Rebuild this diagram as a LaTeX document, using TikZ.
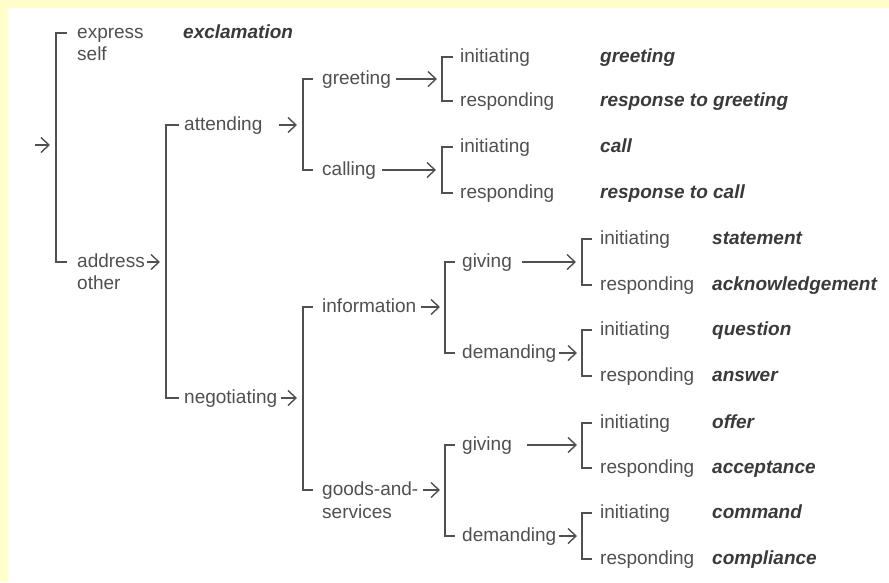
\documentclass[tikz,border=0pt]{standalone}
\usepackage{fontspec}
\setmainfont{Liberation Sans}
\usetikzlibrary{arrows.meta}
\definecolor{bgyellow}{RGB}{255,255,204}
\definecolor{ink}{RGB}{80,80,80}
\definecolor{dark}{RGB}{58,58,58}
\begin{document}
\begin{tikzpicture}[x=1pt,y=-1pt,
  lbl/.style={anchor=west,inner sep=0pt,text height=10pt,text depth=0pt,text=ink,font=\fontsize{19}{22}\selectfont},
  res/.style={lbl,text=dark,font=\fontsize{19}{22}\selectfont\bfseries\itshape},
  line/.style={draw=ink,line width=1.3pt},
  arr/.style={line,-{Straight Barb[length=8pt,width=15pt,line width=1.4pt]}}]
\fill[bgyellow] (0,0) rectangle (889,582);
\fill[white] (8,8) rectangle (889,582);
\useasboundingbox (0,0) rectangle (889,582);

% bar positions
\coordinate (B1) at (56,0);
\coordinate (B2) at (166,0);
\coordinate (B3) at (303,0);
\coordinate (B5) at (442,0);
\coordinate (B7) at (445,0);
\coordinate (B9) at (582,0);
\coordinate (start) at (35,145);

% level 1
\node[lbl] (ex) at (77,33) {express};
\node[lbl] (exb) at (77,55) {self};
\node[res] (excl) at (183,33) {exclamation};
\node[lbl] (ad) at (77,262) {address};
\node[lbl] (adb) at (77,284) {other};

% level 2
\node[lbl] (att) at (184,125) {attending};
\node[lbl] (neg) at (184,398) {negotiating};

% level 3
\node[lbl] (gr) at (322,79) {greeting};
\node[lbl] (ca) at (322,170) {calling};
\node[lbl] (inf) at (322,307) {information};
\node[lbl] (gs) at (322,490) {goods-and-};
\node[lbl] (gsb) at (322,513) {services};

% level 4 (top)
\node[lbl] (i1) at (460,57) {initiating};
\node[lbl] (r1) at (460,101) {responding};
\node[lbl] (i2) at (460,147) {initiating};
\node[lbl] (r2) at (460,193) {responding};
\node[res] (x1) at (600,57) {greeting};
\node[res] (y1) at (600,101) {response to greeting};
\node[res] (x2) at (600,147) {call};
\node[res] (y2) at (600,193) {response to call};

% level 4 (bottom)
\node[lbl] (g1) at (462,262) {giving};
\node[lbl] (d1) at (462,353) {demanding};
\node[lbl] (g2) at (462,445) {giving};
\node[lbl] (d2) at (462,536) {demanding};

% level 5
\node[lbl] (i3) at (600,239) {initiating};
\node[lbl] (r3) at (600,285) {responding};
\node[lbl] (i4) at (600,330) {initiating};
\node[lbl] (r4) at (600,376) {responding};
\node[lbl] (i5) at (600,423) {initiating};
\node[lbl] (r5) at (600,468) {responding};
\node[lbl] (i6) at (600,513) {initiating};
\node[lbl] (r6) at (600,559) {responding};
\node[res] (s3) at (712,239) {statement};
\node[res] (t3) at (712,285) {acknowledgement};
\node[res] (s4) at (712,330) {question};
\node[res] (t4) at (712,376) {answer};
\node[res] (s5) at (712,423) {offer};
\node[res] (t5) at (712,468) {acceptance};
\node[res] (s6) at (712,513) {command};
\node[res] (t6) at (712,559) {compliance};

% brackets
\draw[line] ([xshift=-10pt]ex.west) -- (B1 |- ex.west) -- (B1 |- ad.west) -- ([xshift=-10pt]ad.west);
\draw[line] ([xshift=-5pt]att.west) -- (B2 |- att.west) -- (B2 |- neg.west) -- ([xshift=-5pt]neg.west);
\draw[line] ([xshift=-9pt]gr.west) -- (B3 |- gr.west) -- (B3 |- ca.west) -- ([xshift=-9pt]ca.west);
\draw[line] ([xshift=-9pt]inf.west) -- (B3 |- inf.west) -- (B3 |- gs.west) -- ([xshift=-9pt]gs.west);
\draw[line] ([xshift=-7pt]i1.west) -- (B5 |- i1.west) -- (B5 |- r1.west) -- ([xshift=-7pt]r1.west);
\draw[line] ([xshift=-7pt]i2.west) -- (B5 |- i2.west) -- (B5 |- r2.west) -- ([xshift=-7pt]r2.west);
\draw[line] ([xshift=-7pt]g1.west) -- (B7 |- g1.west) -- (B7 |- d1.west) -- ([xshift=-7pt]d1.west);
\draw[line] ([xshift=-7pt]g2.west) -- (B7 |- g2.west) -- (B7 |- d2.west) -- ([xshift=-7pt]d2.west);
\draw[line] ([xshift=-8pt]i3.west) -- (B9 |- i3.west) -- (B9 |- r3.west) -- ([xshift=-8pt]r3.west);
\draw[line] ([xshift=-8pt]i4.west) -- (B9 |- i4.west) -- (B9 |- r4.west) -- ([xshift=-8pt]r4.west);
\draw[line] ([xshift=-8pt]i5.west) -- (B9 |- i5.west) -- (B9 |- r5.west) -- ([xshift=-8pt]r5.west);
\draw[line] ([xshift=-8pt]i6.west) -- (B9 |- i6.west) -- (B9 |- r6.west) -- ([xshift=-8pt]r6.west);

% arrows
\draw[arr] (start) -- ([xshift=-6pt]B1 |- start);
\draw[arr] ([xshift=2pt]ad.east) -- ([xshift=-6pt]B2 |- ad.east);
\draw[arr] ([xshift=16pt]att.east) -- ([xshift=-6pt]B3 |- att.east);
\draw[arr] ([xshift=4pt]neg.east) -- ([xshift=-6pt]B3 |- neg.east);
\draw[arr] ([xshift=5pt]gr.east) -- ([xshift=-5pt]B5 |- gr.east);
\draw[arr] ([xshift=6pt]ca.east) -- ([xshift=-6pt]B5 |- ca.east);
\draw[arr] ([xshift=5pt]inf.east) -- ([xshift=-5pt]B7 |- inf.east);
\draw[arr] ([xshift=4pt]gs.east) -- ([xshift=-5pt]B7 |- gs.east);
\draw[arr] ([xshift=10pt]g1.east) -- ([xshift=-6pt]B9 |- g1.east);
\draw[arr] ([xshift=3pt]d1.east) -- ([xshift=-5pt]B9 |- d1.east);
\draw[arr] ([xshift=15pt]g2.east) -- ([xshift=-5pt]B9 |- g2.east);
\draw[arr] ([xshift=3pt]d2.east) -- ([xshift=-5pt]B9 |- d2.east);
\end{tikzpicture}
\end{document}
